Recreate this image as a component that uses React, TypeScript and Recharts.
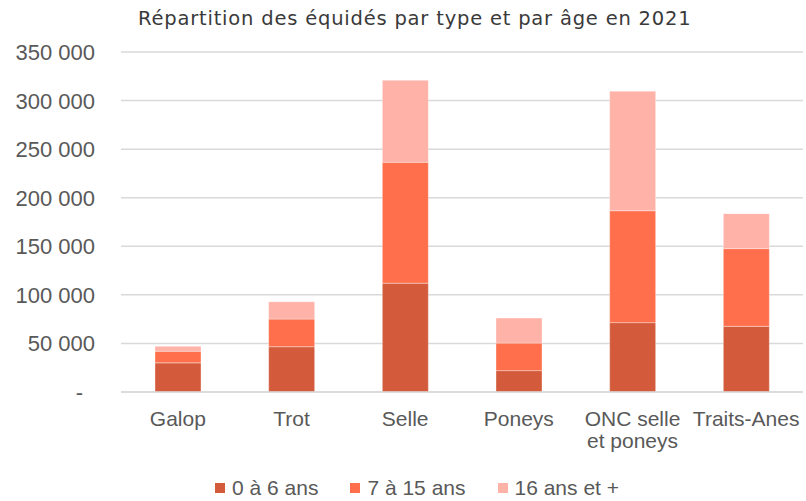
import React from "react";
import { BarChart, Bar, XAxis, YAxis, CartesianGrid, Legend } from "recharts";

const categories = ["Galop", "Trot", "Selle", "Poneys", "ONC selle et poneys", "Traits-Anes"];
const age0to6 = [30000, 46600, 112000, 22000, 71400, 67600];
const age7to15 = [12000, 28500, 124500, 28400, 115200, 80000];
const age16plus = [5000, 17800, 84400, 25700, 123100, 36000];
const yTicks = [0, 50000, 100000, 150000, 200000, 250000, 300000, 350000];
const seriesNames = ["0 à 6 ans", "7 à 15 ans", "16 ans et +"];
const title = "Répartition des équidés par type et par âge en 2021";

const colors = ["#D35B3B", "#FF6F4C", "#FFB2A8"];
const FONT = "'Liberation Sans', Arial, sans-serif";
const TEXT_COLOR = "#595959";

const data = categories.map((c, i) => ({
  name: c,
  a: age0to6[i],
  b: age7to15[i],
  c: age16plus[i],
}));

const fmt = (v: number) => {
  if (v === 0) return "-";
  const s = String(v);
  return s.replace(/\B(?=(\d{3})+(?!\d))/g, " ");
};

let ctx: CanvasRenderingContext2D | null = null;
const measure = (s: string) => {
  if (!ctx) {
    const c = document.createElement("canvas");
    ctx = c.getContext("2d");
  }
  if (!ctx) return s.length * 11;
  ctx.font = "21px 'Liberation Sans', Arial, sans-serif";
  return ctx.measureText(s).width;
};

const wrap = (text: string, maxW: number) => {
  const words = text.split(" ");
  const lines: string[] = [];
  let cur = "";
  words.forEach((w) => {
    const t = cur ? cur + " " + w : w;
    if (cur && measure(t) > maxW) {
      lines.push(cur);
      cur = w;
    } else cur = t;
  });
  if (cur) lines.push(cur);
  return lines;
};

const YTick = (props: any) => {
  const { x, y, payload } = props;
  const v = payload.value;
  return (
    <text
      x={v === 0 ? x - 12 : x}
      y={y}
      dy={8}
      textAnchor="end"
      fontFamily={FONT}
      fontSize={22}
      fill={TEXT_COLOR}
    >
      {fmt(v)}
    </text>
  );
};

const XTick = (props: any) => {
  const { x, y, payload } = props;
  const lines = wrap(String(payload.value), 112);
  return (
    <text x={x} y={y + 26} textAnchor="middle" fontFamily={FONT} fontSize={21} fill={TEXT_COLOR}>
      {lines.map((l, i) => (
        <tspan key={i} x={x} dy={i === 0 ? 0 : 22}>
          {l}
        </tspan>
      ))}
    </text>
  );
};

const LegendContent = () => (
  <div
    style={{
      display: "flex",
      alignItems: "center",
      marginLeft: 215,
      fontFamily: FONT,
      fontSize: 21,
      color: TEXT_COLOR,
      height: 27,
    }}
  >
    {seriesNames.map((n, i) => (
      <div key={n} style={{ display: "flex", alignItems: "center", marginRight: 32 }}>
        <div style={{ width: 10, height: 10, background: colors[i], marginRight: 7 }} />
        <span>{n}</span>
      </div>
    ))}
  </div>
);

export default function App() {
  return (
    <div style={{ position: "absolute", left: 0, top: 0, width: 806, height: 501, background: "#fff" }}>
      <div
        style={{
          position: "absolute",
          left: 138,
          top: 6,
          fontFamily: "'DejaVu Sans', sans-serif",
          fontSize: 19.5,
          lineHeight: "26px",
          color: "#3a3a3a",
          whiteSpace: "nowrap",
          letterSpacing: 0.8,
        }}
      >
        {title}
      </div>
      <BarChart
        width={806}
        height={501}
        data={data}
        margin={{ top: 52, right: 3, left: 0, bottom: 0 }}
        barSize={46}
      >
        <CartesianGrid vertical={false} stroke="#d9d9d9" strokeWidth={1.5} />
        <XAxis
          dataKey="name"
          height={82}
          tickLine={false}
          axisLine={{ stroke: "#d9d9d9", strokeWidth: 1.5 }}
          tick={<XTick />}
          interval={0}
        />
        <YAxis
          width={121}
          domain={[0, 350000]}
          ticks={yTicks}
          axisLine={false}
          tickLine={false}
          tickSize={0}
          tickMargin={26}
          tick={<YTick />}
        />
        <Legend verticalAlign="bottom" height={27} content={<LegendContent />} />
        <Bar dataKey="a" name={seriesNames[0]} stackId="s" fill={colors[0]} stroke="rgba(255,255,255,0.35)" strokeWidth={1} isAnimationActive={false} />
        <Bar dataKey="b" name={seriesNames[1]} stackId="s" fill={colors[1]} stroke="rgba(255,255,255,0.35)" strokeWidth={1} isAnimationActive={false} />
        <Bar dataKey="c" name={seriesNames[2]} stackId="s" fill={colors[2]} stroke="rgba(255,255,255,0.35)" strokeWidth={1} isAnimationActive={false} />
      </BarChart>
    </div>
  );
}
